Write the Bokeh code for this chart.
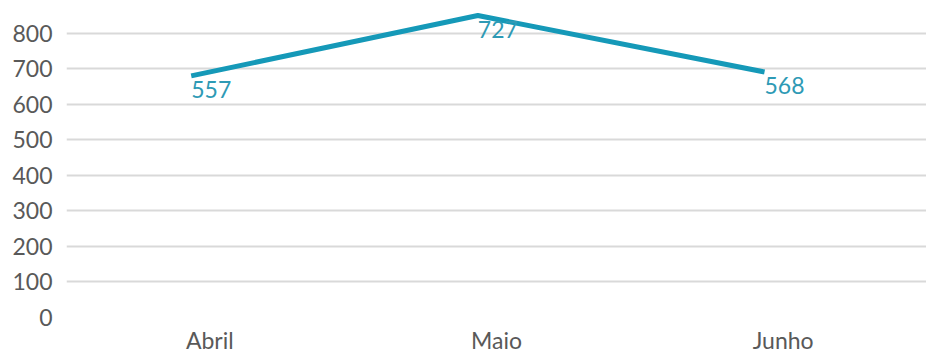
from bokeh.plotting import figure
from bokeh.models import ColumnDataSource, FactorRange, Range1d, FixedTicker
from bokeh.core.properties import value
from bokeh.transform import dodge
from bokeh.embed import file_html
from bokeh.resources import INLINE

# Monthly values
months = ["Abril", "Maio", "Junho"]
values = [557, 727, 568]
labels = ["557", "727", "568"]
y_ticks = [0, 100, 200, 300, 400, 500, 600, 700, 800]

source = ColumnDataSource(data=dict(month=months, value=values, label=labels))

LINE_COLOR = "#1599b8"
FONT = "Lato"

p = figure(
    width=926, height=356,
    x_range=FactorRange(*months, range_padding=0),
    y_range=Range1d(0, 881),
    output_backend="svg", toolbar_location=None,
    min_border_left=66, min_border_right=0,
    min_border_top=4, min_border_bottom=38,
)
p.outline_line_color = None
p.background_fill_color = "white"
p.border_fill_color = "white"

# series line and its value labels, shifted like the source layout
xs = dodge("month", -0.065, range=p.x_range)
ys = dodge("value", 123, range=p.y_range)
p.line(x=xs, y=ys, source=source, line_color=LINE_COLOR, line_width=5)
p.text(x=xs, y=ys, text="label", source=source,
       text_color="#2e9ab5", text_font_size="23px", text_font=value(FONT),
       text_align="left", text_baseline="top", y_offset=5)

# axes
p.yaxis.ticker = FixedTicker(ticks=y_ticks)
p.yaxis.axis_line_color = None
p.yaxis.major_tick_line_color = None
p.yaxis.major_tick_out = 0
p.yaxis.minor_tick_line_color = None
p.yaxis.major_label_text_font = FONT
p.yaxis.major_label_text_font_size = "23px"
p.yaxis.major_label_text_color = "#595959"
p.yaxis.major_label_standoff = 14

p.xaxis.axis_line_color = None
p.xaxis.major_tick_line_color = None
p.xaxis.major_tick_out = 0
p.xaxis.major_label_text_font = FONT
p.xaxis.major_label_text_font_size = "23px"
p.xaxis.major_label_text_color = "#595959"
p.xaxis.major_label_text_line_height = 1.0
p.xaxis.major_label_standoff = 8

p.xgrid.grid_line_color = None
p.ygrid.grid_line_color = "#d9d9d9"
p.ygrid.grid_line_width = 2

open("out.html", "w").write(file_html(p, INLINE))
